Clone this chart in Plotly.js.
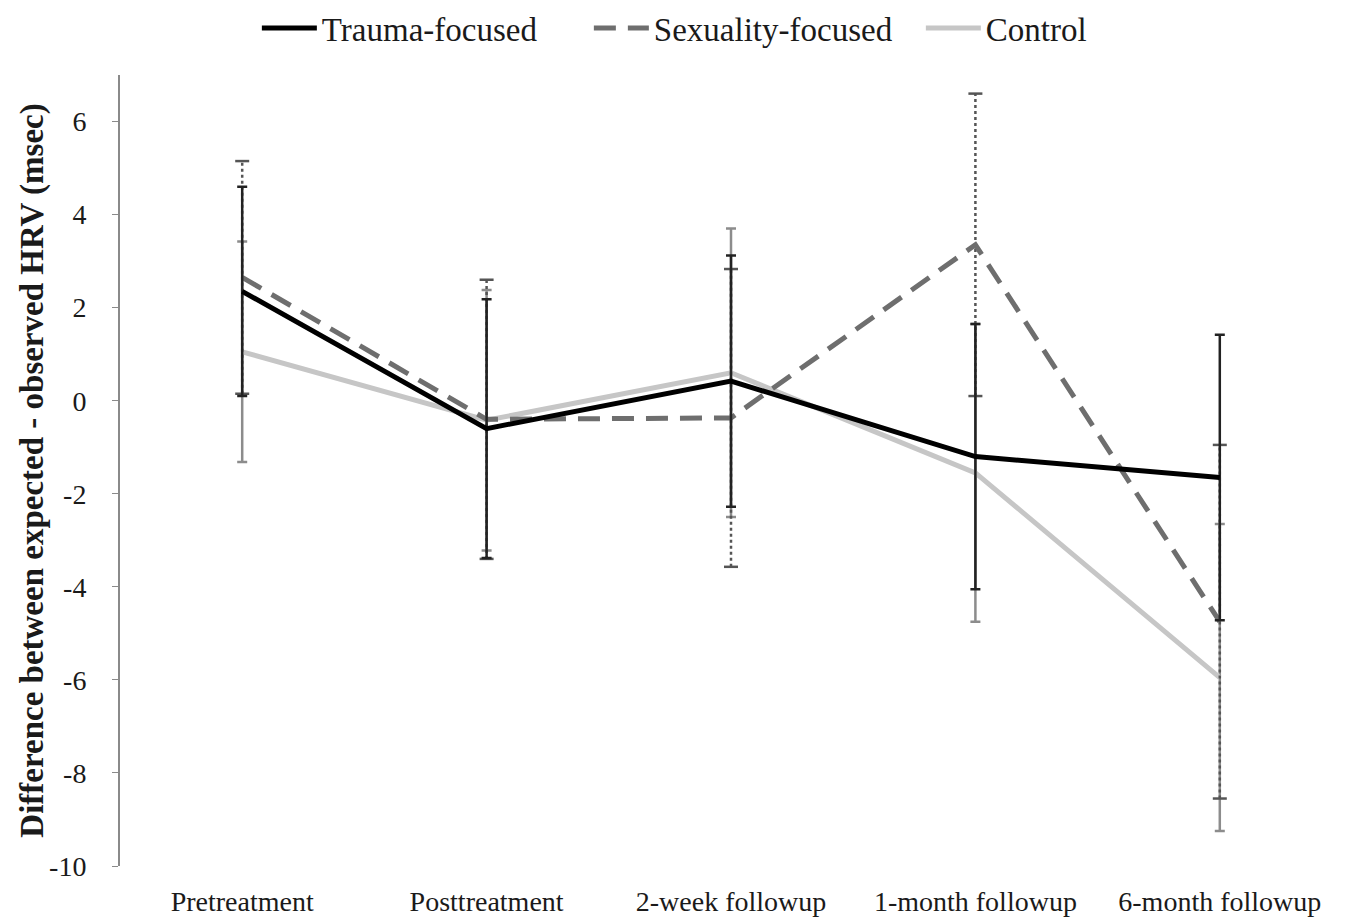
<!DOCTYPE html>
<html>
<head>
<meta charset="utf-8">
<script src="https://cdn.plot.ly/plotly-3.0.1.min.js"></script>
<style>html,body{margin:0;padding:0;background:#fff;}#chart{width:1352px;height:918px;}</style>
</head>
<body>
<div id="chart"></div>
<script>
const categories = ['Pretreatment', 'Posttreatment', '2-week followup', '1-month followup', '6-month followup'];
const trauma = [2.35, -0.6, 0.42, -1.2, -1.65];
const traumaErr = [2.25, 2.78, 2.7, 2.85, 3.07];
const sexuality = [2.65, -0.4, -0.37, 3.35, -4.75];
const sexualityErr = [2.5, 3.0, 3.2, 3.25, 3.8];
const control = [1.05, -0.42, 0.6, -1.55, -5.95];
const controlErr = [2.37, 2.8, 3.1, 3.2, 3.3];
const yTicks = [-10, -8, -6, -4, -2, 0, 2, 4, 6];

const FONT = 'Liberation Serif, Times New Roman, serif';

// dotted error bars for the sexuality-focused group, built from the data
const sx = [], sy = [];
categories.forEach((c, i) => {
  sx.push(c, c, null);
  sy.push(sexuality[i] - sexualityErr[i], sexuality[i] + sexualityErr[i], null);
});

const traces = [
  {
    x: categories, y: control, name: 'Control', type: 'scatter', mode: 'lines',
    line: {color: '#c6c6c6', width: 5}, legendrank: 3,
    error_y: {type: 'data', array: controlErr, visible: true, color: '#8c8c8c', thickness: 2.5, width: 5}
  },
  {
    x: sx, y: sy, type: 'scatter', mode: 'lines+markers', showlegend: false, hoverinfo: 'skip',
    connectgaps: false,
    line: {color: '#555555', width: 2.5, dash: '3px,3px'},
    marker: {symbol: 'line-ew', size: 10, line: {color: '#555555', width: 2.5}}
  },
  {
    x: categories, y: sexuality, name: 'Sexuality-focused', type: 'scatter', mode: 'lines',
    line: {color: '#6e6e6e', width: 5, dash: '22px,12px'}, legendrank: 2
  },
  {
    x: categories, y: trauma, name: 'Trauma-focused', type: 'scatter', mode: 'lines',
    line: {color: '#000000', width: 5}, legendrank: 1,
    error_y: {type: 'data', array: traumaErr, visible: true, color: '#222222', thickness: 2.5, width: 5}
  }
];

const layout = {
  width: 1352, height: 918,
  margin: {l: 120, r: 10, t: 75, b: 52},
  paper_bgcolor: '#ffffff', plot_bgcolor: '#ffffff',
  font: {family: FONT, color: '#1a1a1a', size: 28},
  showlegend: true,
  legend: {
    orientation: 'h', x: 0.112, xanchor: 'left', yref: 'container', y: 1, yanchor: 'top',
    font: {family: FONT, size: 33, color: '#1a1a1a'}, itemwidth: 55,
    entrywidth: 262, entrywidthmode: 'pixels', traceorder: 'normal'
  },
  xaxis: {
    type: 'category', range: [-0.5, 4.5], showgrid: false, zeroline: false, showline: false,
    ticks: 'outside', ticklen: 10, tickcolor: 'rgba(0,0,0,0)',
    tickfont: {family: FONT, size: 28, color: '#1a1a1a'}
  },
  xaxis2: {
    type: 'linear', overlaying: 'x', anchor: 'free', position: 10 / 17, range: [-0.5, 4.5],
    showgrid: false, zeroline: false, showline: true, linecolor: '#8a8a8a', linewidth: 1.5,
    ticks: 'outside', ticklen: 5, tickcolor: '#8a8a8a', tickvals: [0.5, 1.5, 2.5, 3.5],
    showticklabels: false, fixedrange: true
  },
  yaxis: {
    range: [-10, 7], tickvals: yTicks, ticktext: yTicks.map(v => v < 0 ? '-' + Math.abs(v) : String(v)),
    showgrid: false, zeroline: false, showline: true, linecolor: '#8a8a8a', linewidth: 2,
    ticks: 'outside', ticklen: 6, tickcolor: '#8a8a8a', ticklabelstandoff: 20,
    tickfont: {family: FONT, size: 28, color: '#1a1a1a'},
    title: {text: '<b>Difference between expected - observed HRV (msec)</b>', font: {family: FONT, size: 33, color: '#1a1a1a'}}
  }
};

Plotly.newPlot('chart', traces, layout, {displayModeBar: false, staticPlot: true});
</script>
</body>
</html>
